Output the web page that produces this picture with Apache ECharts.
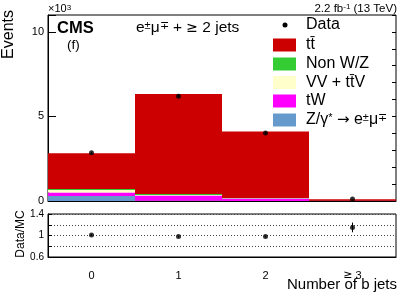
<!DOCTYPE html>
<html><head><meta charset="utf-8">
<script src="https://cdn.jsdelivr.net/npm/echarts@6/dist/echarts.min.js"></script>
<style>html,body{margin:0;padding:0;background:#fff}#c{width:407px;height:292px}</style>
</head><body><div id="c"></div>
<script>
// categories (number of b jets)
const categories = ['0', '1', '2', '≥ 3'];
// stacked MC yields, in units of 10^3 events
const dyYield    = [0.30, 0.02, 0.005, 0.0];
const twYield    = [0.20, 0.30, 0.14, 0.01];
const vvYield    = [0.15, 0.04, 0.02, 0.003];
const nonWZYield = [0.06, 0.06, 0.01, 0.002];
const ttYield    = [2.11, 5.91, 3.93, 0.085];
// data, in units of 10^3 events
const dataYield  = [2.86, 6.20, 4.02, 0.115];
const dataErr    = [0.053, 0.079, 0.063, 0.011];
// ratio Data/MC
const ratioVal   = [1.01, 0.98, 0.98, 1.15];
const ratioErr   = [0.02, 0.013, 0.016, 0.09];
// axis ticks
const mainYMax = 11, mainYMajor = 5, mainYMinor = 1;
const ratioYMin = 0.6, ratioYMax = 1.4, ratioYStep = 0.2;
const ratioLabels = [0.6, 1, 1.4];

const FONT = 'Liberation Sans, Arial, Helvetica, sans-serif';
const SYM = 'DejaVu Sans, sans-serif';
const C = {tt:'#cc0000', nonWZ:'#33cc33', vv:'#ffffcc', tw:'#ff00ff', dy:'#6699cc'};

const chart = echarts.init(document.getElementById('c'), null, {renderer:'canvas'});

function errBar(xAxisIndex, yAxisIndex, vals, errs){
  return {
    type:'custom', xAxisIndex, yAxisIndex, silent:true, z:5,
    data: vals.map((v,i)=>[i, v-errs[i], v+errs[i]]),
    renderItem(params, api){
      const lo = api.coord([api.value(0), api.value(1)]);
      const hi = api.coord([api.value(0), api.value(2)]);
      return {type:'line', shape:{x1:lo[0], y1:lo[1], x2:hi[0], y2:hi[1]}, style:{stroke:'#000', lineWidth:1}};
    }
  };
}

const stackSeries = [
  ['Z/γ* → e±μ∓', dyYield, C.dy],
  ['tW', twYield, C.tw],
  ['VV + tt̄V', vvYield, C.vv],
  ['Non W/Z', nonWZYield, C.nonWZ],
  ['tt̄', ttYield, C.tt]
].map(([name, d, col]) => ({
  name, type:'bar', stack:'mc', xAxisIndex:0, yAxisIndex:0, data:d,
  barCategoryGap:'0%', itemStyle:{color:col, borderWidth:0}, silent:true
}));

const supStyle = {fontSize:11, verticalAlign:'top', fontFamily:FONT, fill:'#000'};
const LFS = 16;
const legendRows = [
  {label:'{n|tt̄}', color:C.tt, y:45},
  {label:'{n|Non W/Z}', color:C.nonWZ, y:64},
  {label:'{n|VV + tt̄V}', color:C.vv, y:82.5},
  {label:'{n|tW}', color:C.tw, y:101},
  {label:'{n|Z/γ}{s|*}{n| }{a|→}{n| e}{s|±}{n|μ}{s|∓}', color:C.dy, y:120}
];
const graphics = [];
// Legend: data marker
graphics.push({type:'circle', shape:{cx:285, cy:25, r:2.5}, style:{fill:'#000'}});
graphics.push({type:'text', x:306, y:25, style:{text:'Data', font:LFS+'px '+FONT, fill:'#000', verticalAlign:'middle'}});
legendRows.forEach(r=>{
  graphics.push({type:'rect', shape:{x:273, y:r.y-6.5, width:23, height:13}, style:{fill:r.color}});
  graphics.push({type:'text', x:306, y:r.y, style:{text:r.label, verticalAlign:'middle',
    rich:{n:{fontSize:LFS, fontFamily:FONT, fill:'#000'}, s:supStyle, a:{fontSize:15, fontFamily:SYM, fill:'#000'}}}});
});
// header texts
graphics.push({type:'text', x:57, y:28, style:{text:'CMS', font:'bold 16.5px '+FONT, fill:'#000', verticalAlign:'middle'}});
graphics.push({type:'text', x:67, y:45, style:{text:'(f)', font:'13.5px '+FONT, fill:'#000', verticalAlign:'middle'}});
graphics.push({type:'text', x:136, y:28, style:{text:'{n|e}{s|±}{n|μ}{s|∓}{n| + }{g|≥}{n| 2 jets}', verticalAlign:'middle',
  rich:{n:{fontSize:15.5, fontFamily:FONT, fill:'#000'}, s:supStyle, g:{fontSize:14, fontFamily:SYM, fill:'#000'}}}});
graphics.push({type:'text', x:397, y:9, style:{text:'{n|2.2 fb}{s|-1}{n| (13 TeV)}', align:'right', verticalAlign:'middle',
  rich:{n:{fontSize:11.5, fontFamily:FONT, fill:'#000'}, s:{fontSize:8, verticalAlign:'top', fontFamily:FONT, fill:'#000'}}}});
graphics.push({type:'text', x:48, y:9, style:{text:'{n|×10}{s|3}', verticalAlign:'middle',
  rich:{n:{fontSize:11, fontFamily:FONT, fill:'#000'}, s:{fontSize:8, verticalAlign:'top', fontFamily:FONT, fill:'#000'}}}});
// axis titles
graphics.push({type:'text', x:8.5, y:10, rotation:Math.PI/2, style:{text:'Events', font:'16px '+FONT, fill:'#000', align:'right', verticalAlign:'middle'}});
graphics.push({type:'text', x:21, y:234, rotation:Math.PI/2, style:{text:'Data/MC', font:'12px '+FONT, fill:'#000', align:'center', verticalAlign:'middle'}});
graphics.push({type:'text', x:397, y:285, style:{text:'Number of b jets', font:'15px '+FONT, fill:'#000', align:'right', verticalAlign:'middle'}});

const near = (a,b)=>Math.abs(a-b)<1e-6;

chart.setOption({
  animation:false,
  backgroundColor:'#fff',
  textStyle:{fontFamily:FONT},
  grid:[
    {left:48, right:11, top:15, height:186, show:true, borderColor:'#000', borderWidth:1, backgroundColor:'transparent'},
    {left:48, right:11, top:214, height:43, show:true, borderColor:'#000', borderWidth:1, backgroundColor:'transparent'}
  ],
  xAxis:[
    {type:'category', gridIndex:0, data:categories, boundaryGap:true,
     axisLine:{lineStyle:{color:'#000'}}, axisLabel:{show:false},
     axisTick:{inside:true, alignWithLabel:true, length:4, lineStyle:{color:'#000'}}, splitLine:{show:false}},
    {type:'category', gridIndex:1, data:categories, boundaryGap:true,
     axisLine:{lineStyle:{color:'#000'}},
     axisLabel:{show:true, fontSize:11, color:'#000', margin:12, fontFamily:FONT, lineHeight:13,
       formatter:v=> v.indexOf('≥')===0 ? '{g|≥}{n|' + v.slice(1) + '}' : '{n|' + v + '}',
       rich:{g:{fontSize:11, fontFamily:SYM, color:'#000', lineHeight:13}, n:{fontSize:11, fontFamily:FONT, color:'#000', lineHeight:13}}},
     axisTick:{show:false}, splitLine:{show:false}}
  ],
  yAxis:[
    {type:'value', gridIndex:0, min:0, max:mainYMax, interval:mainYMajor,
     axisLine:{show:true, lineStyle:{color:'#000'}},
     axisTick:{show:true, inside:true, length:8, lineStyle:{color:'#000'}},
     axisLabel:{fontSize:11, color:'#000', margin:4, fontFamily:FONT, formatter:v=> (v%mainYMajor===0 ? String(v) : '')},
     splitLine:{show:false}},
    {type:'value', gridIndex:0, min:0, max:mainYMax, interval:mainYMinor,
     axisLine:{show:false}, axisLabel:{show:false},
     axisTick:{show:true, inside:true, length:4, lineStyle:{color:'#000'}}, splitLine:{show:false}},
    {type:'value', gridIndex:1, min:ratioYMin, max:ratioYMax, interval:ratioYStep,
     axisLine:{show:true, lineStyle:{color:'#000'}},
     axisTick:{show:true, inside:true, length:4, lineStyle:{color:'#000'}},
     axisLabel:{fontSize:10, color:'#000', margin:4, fontFamily:FONT,
       formatter:v=>{const m = ratioLabels.find(r=>near(r,v)); return m===undefined ? '' : String(m);}},
     splitLine:{show:true, lineStyle:{color:'#444', type:[1,2], width:1}}}
  ],
  series:[
    ...stackSeries,
    errBar(0, 0, dataYield, dataErr),
    {name:'Data', type:'scatter', xAxisIndex:0, yAxisIndex:0, data:dataYield, symbol:'circle', symbolSize:5,
     itemStyle:{color:'#000'}, z:6, silent:true},
    errBar(1, 2, ratioVal, ratioErr),
    {name:'Ratio', type:'scatter', xAxisIndex:1, yAxisIndex:2, data:ratioVal, symbol:'circle', symbolSize:5,
     itemStyle:{color:'#000'}, z:6, silent:true}
  ],
  graphic:graphics
});
</script></body></html>
